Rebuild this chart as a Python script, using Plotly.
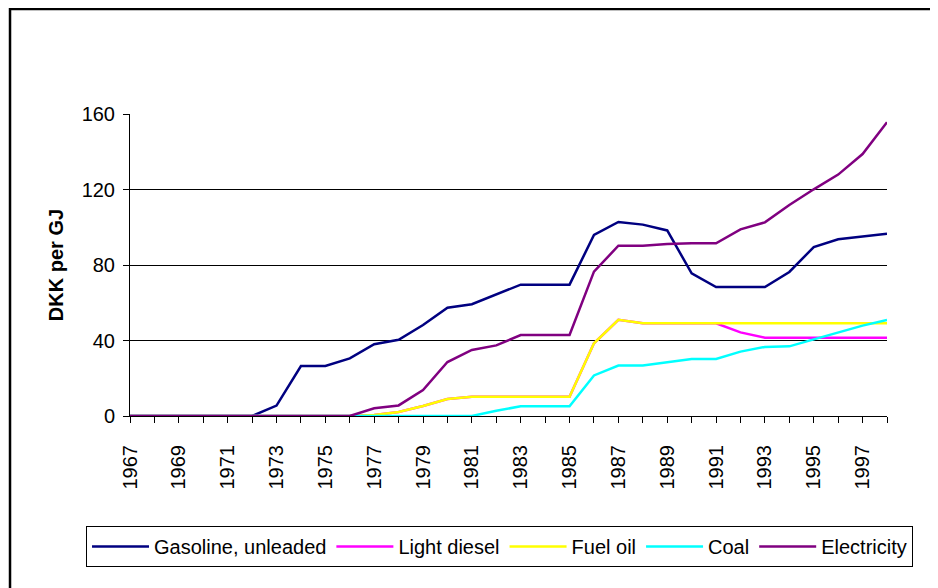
import plotly.graph_objects as go

years = list(range(1967, 1999))

gasoline = [0, 0, 0, 0, 0, 0, 5.5, 26.5, 26.5, 30.5, 38.0, 40.4, 48.2, 57.4, 59.2, 64.5,
            69.6, 69.6, 69.6, 95.9, 102.8, 101.4, 98.3, 75.6, 68.3, 68.3, 68.3, 76.3,
            89.5, 93.6, 95.0, 96.6]
light_diesel = [0, 0, 0, 0, 0, 0, 0, 0, 0, 0, 0.5, 2.1, 5.3, 9.0, 10.2, 10.2,
                10.2, 10.2, 10.2, 38.5, 51.0, 49.1, 49.1, 49.1, 49.1, 44.3, 41.5, 41.5,
                41.5, 41.5, 41.5, 41.5]
fuel_oil = [0, 0, 0, 0, 0, 0, 0, 0, 0, 0, 0.5, 2.1, 5.3, 9.0, 10.2, 10.2,
            10.2, 10.2, 10.2, 38.5, 51.0, 49.1, 49.1, 49.1, 49.1, 49.1, 49.1, 49.1,
            49.1, 49.1, 49.1, 49.1]
coal = [0, 0, 0, 0, 0, 0, 0, 0, 0, 0, 0, 0, 0, 0, 0, 2.8,
        5.1, 5.1, 5.1, 21.5, 26.7, 26.7, 28.6, 30.2, 30.2, 34.1, 36.6, 36.9,
        40.6, 44.3, 47.9, 50.9]
electricity = [0, 0, 0, 0, 0, 0, 0, 0, 0, 0, 4.1, 5.6, 13.8, 28.6, 35.0, 37.4,
               42.9, 42.9, 42.9, 76.5, 90.2, 90.2, 91.1, 91.5, 91.5, 98.9, 102.6, 111.8,
               120.1, 127.9, 138.8, 155.6]

series = [
    ("Gasoline, unleaded", gasoline, "#000080"),
    ("Light diesel", light_diesel, "#FF00FF"),
    ("Fuel oil", fuel_oil, "#FFFF00"),
    ("Coal", coal, "#00FFFF"),
    ("Electricity", electricity, "#800080"),
]

FONT = "Arial, Liberation Sans, sans-serif"

fig = go.Figure()
for name, vals, color in series:
    fig.add_trace(go.Scatter(x=years, y=vals, name=name, mode="lines",
                             line=dict(color=color, width=2.5)))

# page body has an 8px margin, so the figure is sized 930x580
fig.update_layout(
    width=930, height=580,
    paper_bgcolor="white", plot_bgcolor="white",
    font=dict(family=FONT, color="black", size=20),
    margin=dict(l=122, r=51, t=106, b=172, autoexpand=False),
    showlegend=True,
    legend=dict(
        orientation="h", x=-0.0581, xanchor="left", y=-0.364, yanchor="top",
        bordercolor="black", borderwidth=1, bgcolor="white",
        font=dict(size=20), itemwidth=57,
    ),
    xaxis=dict(
        range=[1967, 1998], tick0=1967, dtick=2, showgrid=False,
        ticks="outside", ticklen=6, tickcolor="black", tickangle=-90,
        showline=True, linecolor="black", linewidth=1,
        ticklabelstandoff=14, zeroline=False,
        minor=dict(dtick=1, tick0=1967, ticks="outside", ticklen=6,
                   tickcolor="black", showgrid=False),
    ),
    yaxis=dict(
        range=[0, 160], dtick=40, showgrid=True, gridcolor="black", gridwidth=1,
        ticks="outside", ticklen=6, tickcolor="black", ticklabelstandoff=4,
        showline=True, linecolor="black", linewidth=1, zeroline=False,
        title=dict(text="<b>DKK per GJ</b>", standoff=12, font=dict(size=20)),
    ),
)

# outer chart frame
fig.add_shape(type="rect", xref="paper", yref="paper",
              x0=-0.1585, y0=-0.8, x1=1.2, y1=1.3477,
              line=dict(color="black", width=2.5), fillcolor="rgba(0,0,0,0)",
              layer="below")

fig.write_html("out.html")
